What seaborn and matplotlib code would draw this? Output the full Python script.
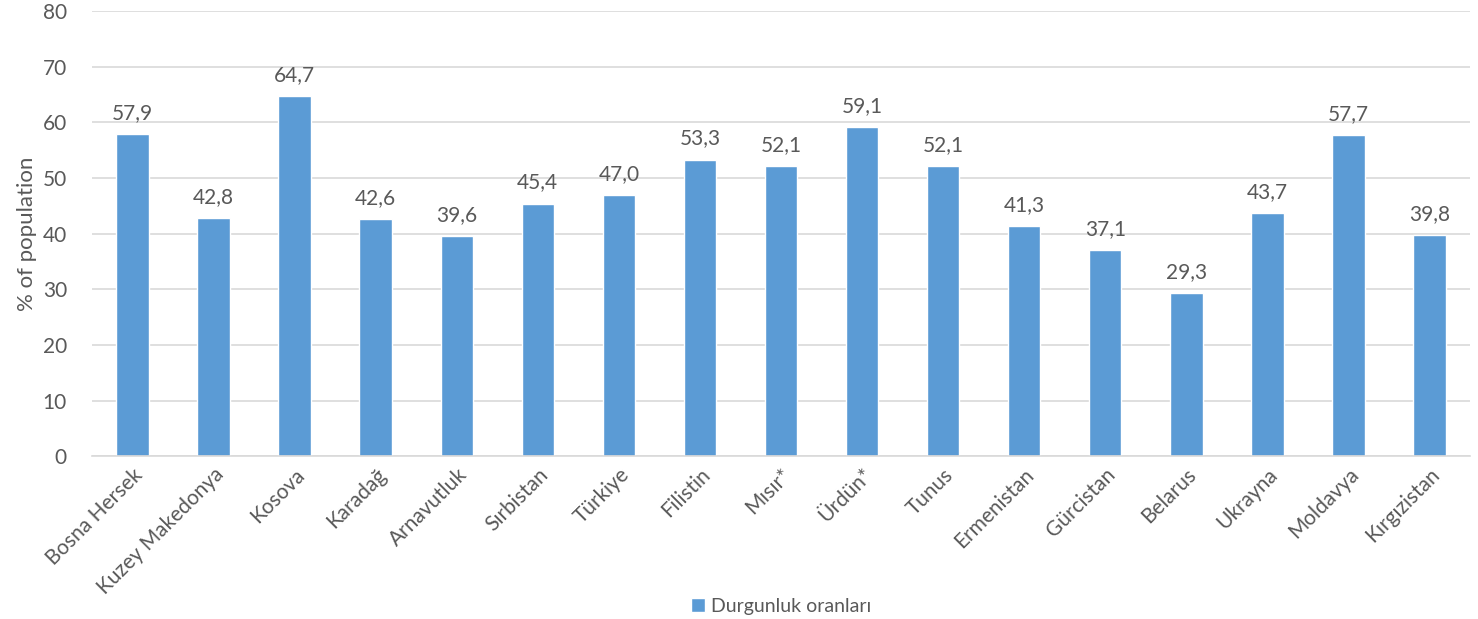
import matplotlib
matplotlib.use("Agg")
import matplotlib.pyplot as plt
import seaborn as sns

countries = ["Bosna Hersek", "Kuzey Makedonya", "Kosova", "Karadağ", "Arnavutluk",
             "Sırbistan", "Türkiye", "Filistin", "Mısır*", "Ürdün*", "Tunus",
             "Ermenistan", "Gürcistan", "Belarus", "Ukrayna", "Moldavya", "Kırgızistan"]
rates = [57.9, 42.8, 64.7, 42.6, 39.6, 45.4, 47.0, 53.3, 52.1, 59.1, 52.1,
         41.3, 37.1, 29.3, 43.7, 57.7, 39.8]
series_name = "Durgunluk oranları"
y_ticks = [0, 10, 20, 30, 40, 50, 60, 70, 80]

sns.set_style("white")
plt.rcParams["font.family"] = ["Lato", "DejaVu Sans"]
text_col = "#595959"

fig = plt.figure(figsize=(14.78, 6.19), dpi=100)
ax = fig.add_axes([0.0622, 0.263, 0.9324, 0.719])

sns.barplot(x=countries, y=rates, color="#5B9BD5", saturation=1, width=0.4,
            label=series_name, ax=ax)

ax.bar_label(ax.containers[0], labels=[f"{v:.1f}".replace(".", ",") for v in rates],
             padding=8, fontsize=15, color=text_col)

ax.set_ylim(0, 80)
ax.set_yticks(y_ticks)
ax.set_xlim(-0.5, len(countries) - 0.5)
ax.yaxis.grid(True, color="#D9D9D9", linewidth=1.2)
ax.set_axisbelow(True)
for s in ["top", "right", "left"]:
    ax.spines[s].set_visible(False)
ax.spines["bottom"].set_color("#D9D9D9")
ax.spines["bottom"].set_linewidth(1.2)

ax.tick_params(axis="both", length=0, labelsize=15, labelcolor=text_col)
ax.tick_params(axis="y", pad=18)
ax.tick_params(axis="x", pad=6)
plt.setp(ax.get_xticklabels(), rotation=45, ha="right", rotation_mode="anchor")
ax.set_ylabel("% of population", fontsize=16, color=text_col, labelpad=4)
ax.set_xlabel("")

ax.legend(loc="lower center", bbox_to_anchor=(0.5, -0.395), frameon=False,
          fontsize=14, labelcolor=text_col, handlelength=0.7, handleheight=0.7,
          handletextpad=0.3)

fig.savefig("out.png", dpi=100)
